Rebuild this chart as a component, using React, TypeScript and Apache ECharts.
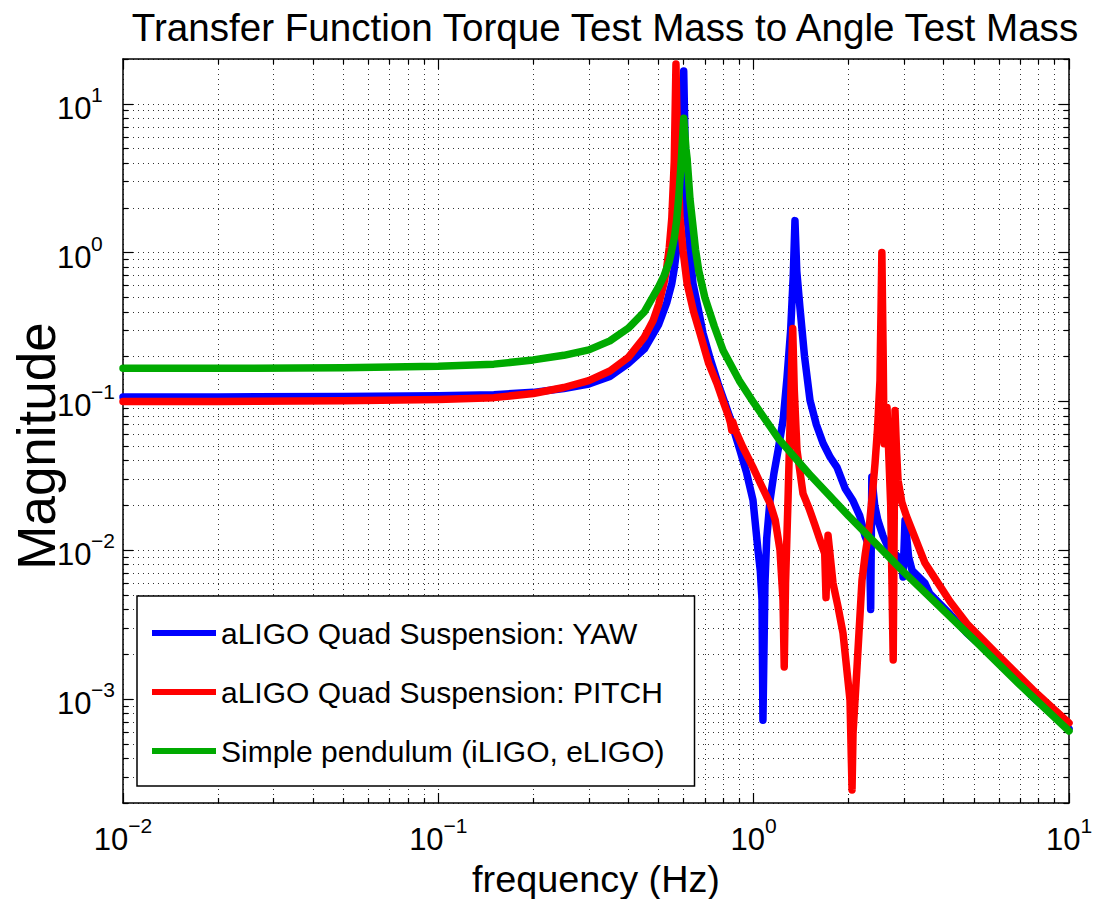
import React, { useEffect, useRef } from 'react';
import * as echarts from 'echarts';

const FONT = "'Liberation Sans', Arial, Helvetica, sans-serif";

const TITLE = 'Transfer Function Torque Test Mass to Angle Test Mass';
const X_NAME = 'frequency (Hz)';
const Y_NAME = 'Magnitude';
const SERIES_NAMES = [
  'aLIGO Quad Suspension: YAW',
  'aLIGO Quad Suspension: PITCH',
  'Simple pendulum (iLIGO, eLIGO)',
];
const SERIES_COLORS = ['#0000ff', '#ff0000', '#00aa00'];

const X_MIN = 0.01;
const X_MAX = 10;
const Y_MIN = 2e-4;
const Y_MAX = 20;

const X_MAJOR = [0.01, 0.1, 1, 10];
const X_MAJOR_EXP = ['\u22122', '\u22121', '0', '1'];
const Y_MAJOR = [0.001, 0.01, 0.1, 1, 10];
const Y_MAJOR_EXP = ['\u22123', '\u22122', '\u22121', '0', '1'];
const MINOR_MULT = [2, 3, 4, 5, 6, 7, 8, 9];
const X_DECADES = [0.01, 0.1, 1];
const Y_DECADES = [1e-4, 1e-3, 1e-2, 0.1, 1, 10];

// aLIGO Quad Suspension: YAW
const YAW_FREQ = [0.01, 0.02, 0.05, 0.1, 0.15, 0.2, 0.25, 0.3, 0.35, 0.4, 0.45, 0.5, 0.53, 0.55, 0.56, 0.57, 0.58, 0.59, 0.596, 0.6, 0.604, 0.61, 0.615, 0.628, 0.642, 0.67, 0.691, 0.73, 0.771, 0.841, 0.905, 0.95, 0.995, 1.032, 1.05, 1.063, 1.07, 1.086, 1.1, 1.127, 1.16, 1.195, 1.24, 1.276, 1.31, 1.335, 1.352, 1.37, 1.403, 1.45, 1.509, 1.58, 1.66, 1.75, 1.838, 1.95, 2.065, 2.17, 2.254, 2.33, 2.35, 2.37, 2.42, 2.477, 2.57, 2.667, 2.87, 2.95, 2.976, 3.02, 3.1, 3.18, 3.494, 3.62, 4.2, 4.75, 6.04, 7.69, 10];
const YAW_MAG = [0.107, 0.107, 0.108, 0.109, 0.111, 0.115, 0.122, 0.131, 0.147, 0.18, 0.225, 0.33, 0.46, 0.62, 0.78, 1.05, 1.5, 3.2, 8, 16.6, 8, 2.8, 1.75, 1.03, 0.62, 0.4, 0.286, 0.19, 0.132, 0.078, 0.0469, 0.033, 0.0217, 0.01, 0.0072, 0.0046, 0.00072, 0.006, 0.012, 0.0217, 0.033, 0.0469, 0.075, 0.145, 0.3, 0.7, 1.64, 0.75, 0.42, 0.2, 0.1016, 0.07, 0.0523, 0.042, 0.036, 0.026, 0.0215, 0.017, 0.0125, 0.0105, 0.004, 0.031, 0.02, 0.0159, 0.0125, 0.0105, 0.009, 0.0085, 0.0066, 0.0159, 0.009, 0.0073, 0.006, 0.0051, 0.0037, 0.00277, 0.00175, 0.00103, 0.00063];

// aLIGO Quad Suspension: PITCH
const PITCH_FREQ = [0.01, 0.02, 0.05, 0.1, 0.15, 0.2, 0.25, 0.3, 0.35, 0.4, 0.45, 0.48, 0.5, 0.52, 0.53, 0.54, 0.55, 0.56, 0.567, 0.575, 0.584, 0.597, 0.615, 0.645, 0.676, 0.72, 0.765, 0.8, 0.835, 0.845, 0.852, 0.858, 0.88, 0.925, 0.995, 1.06, 1.127, 1.17, 1.212, 1.239, 1.25, 1.262, 1.285, 1.31, 1.33, 1.345, 1.372, 1.434, 1.5, 1.56, 1.623, 1.68, 1.696, 1.721, 1.785, 1.85, 1.92, 2.021, 2.051, 2.066, 2.127, 2.206, 2.26, 2.32, 2.38, 2.426, 2.47, 2.515, 2.55, 2.575, 2.591, 2.648, 2.72, 2.77, 2.807, 2.84, 2.87, 2.95, 3.05, 3.18, 3.494, 3.7, 4.2, 4.75, 6.04, 7.69, 10];
const PITCH_MAG = [0.1, 0.1, 0.101, 0.103, 0.106, 0.113, 0.124, 0.138, 0.16, 0.197, 0.27, 0.35, 0.45, 0.63, 0.79, 1.08, 1.7, 4.1, 18.5, 4.0, 1.72, 1.03, 0.62, 0.4, 0.286, 0.18, 0.132, 0.1, 0.078, 0.071, 0.064, 0.073, 0.062, 0.049, 0.036, 0.027, 0.0206, 0.016, 0.01, 0.0046, 0.00164, 0.006, 0.0217, 0.1, 0.309, 0.12, 0.047, 0.024, 0.019, 0.015, 0.0117, 0.0095, 0.0048, 0.0126, 0.006, 0.0042, 0.00277, 0.00098, 0.000245, 0.00059, 0.00164, 0.0063, 0.0095, 0.0136, 0.024, 0.0384, 0.065, 0.138, 1.0, 0.2, 0.052, 0.091, 0.02, 0.00183, 0.087, 0.045, 0.0295, 0.021, 0.017, 0.0136, 0.0082, 0.0068, 0.0045, 0.0032, 0.00191, 0.00115, 0.00069];

// Simple pendulum (iLIGO, eLIGO)
const PEND_FREQ = [0.01, 0.02, 0.05, 0.1, 0.15, 0.2, 0.25, 0.3, 0.35, 0.4, 0.45, 0.5, 0.52, 0.54, 0.56, 0.57, 0.58, 0.59, 0.6, 0.61, 0.615, 0.62, 0.628, 0.64, 0.654, 0.67, 0.7, 0.75, 0.8, 0.9, 1.0, 1.2, 1.5, 2, 3, 5, 7, 10];
const PEND_MAG = [0.167, 0.167, 0.168, 0.172, 0.178, 0.19, 0.204, 0.222, 0.255, 0.31, 0.4, 0.59, 0.7, 0.87, 1.25, 1.65, 2.5, 4.3, 8.0, 5.0, 4.3, 3.4, 2.3, 1.6, 1.05, 0.75, 0.5, 0.32, 0.22, 0.138, 0.098, 0.056, 0.0325, 0.017, 0.0071, 0.0025, 0.00124, 0.00061];

function buildMinor(decades: number[], mults: number[]): number[] {
  const out: number[] = [];
  decades.forEach((d) => mults.forEach((m) => out.push(Number((d * m).toPrecision(6)))));
  return out;
}
const X_MINOR = buildMinor(X_DECADES, MINOR_MULT);
const Y_MINOR = buildMinor(Y_DECADES, MINOR_MULT);

function zip(xs: number[], ys: number[]): number[][] {
  return xs.map((x, i) => [x, ys[i]]);
}

function expLabel(v: number, majors: number[], exps: string[]): string {
  const i = majors.findIndex((t) => Math.abs(Math.log10(t) - Math.log10(v)) < 1e-6);
  return '{b|10}{e|' + (i >= 0 ? exps[i] : '') + '}';
}

const RICH_X = {
  b: { fontSize: 31, fontFamily: FONT, color: '#000', lineHeight: 31, verticalAlign: 'bottom' },
  e: { fontSize: 21, fontFamily: FONT, color: '#000', lineHeight: 40, verticalAlign: 'top' },
};
const RICH_Y = {
  b: { fontSize: 31, fontFamily: FONT, color: '#000', lineHeight: 31, verticalAlign: 'bottom', width: 34, align: 'left' },
  e: { fontSize: 21, fontFamily: FONT, color: '#000', lineHeight: 40, verticalAlign: 'top', width: 30, align: 'left' },
};

const GRID_LINE = { color: '#333', width: 1, type: [1, 4] };
const AXIS_LINE = { show: true, onZero: false, lineStyle: { color: '#000', width: 1.5 } };
const TICK_STYLE = { color: '#000', width: 1.2 };

export default function App() {
  const ref = useRef<HTMLDivElement>(null);

  useEffect(() => {
    if (!ref.current) return;
    const chart = echarts.init(ref.current, null, { renderer: 'svg' });

    const xBase = { type: 'log', logBase: 10, min: X_MIN, max: X_MAX, gridIndex: 0, minorTick: { show: false }, minorSplitLine: { show: false }, splitArea: { show: false } };
    const yBase = { type: 'log', logBase: 10, min: Y_MIN, max: Y_MAX, gridIndex: 0, minorTick: { show: false }, minorSplitLine: { show: false }, splitArea: { show: false } };

    const option: any = {
      animation: false,
      backgroundColor: '#fff',
      title: {
        text: TITLE,
        left: 605,
        textAlign: 'center',
        top: 8,
        padding: 0,
        textStyle: { fontSize: 38.6, fontWeight: 'normal', fontFamily: FONT, color: '#000' },
      },
      grid: { left: 123, top: 59, right: 25, bottom: 96, containLabel: false, outerBoundsMode: 'none', show: false },
      legend: {
        show: true,
        orient: 'vertical',
        left: 137,
        top: 596,
        padding: [22, 30, 20, 15],
        itemGap: 29,
        itemWidth: 64,
        itemHeight: 6,
        icon: 'rect',
        borderColor: '#000',
        borderWidth: 1.5,
        borderRadius: 0,
        backgroundColor: '#fff',
        selectedMode: false,
        data: SERIES_NAMES,
        textStyle: { fontSize: 30, fontFamily: FONT, color: '#000', lineHeight: 30 },
      },
      xAxis: [
        {
          ...xBase,
          position: 'bottom',
          axisLine: AXIS_LINE,
          axisTick: { show: true, inside: true, length: 10, customValues: X_MAJOR, lineStyle: TICK_STYLE },
          axisLabel: {
            show: true,
            customValues: X_MAJOR,
            margin: 12,
            formatter: (v: number) => expLabel(v, X_MAJOR, X_MAJOR_EXP),
            rich: RICH_X,
          },
          splitLine: { show: true, lineStyle: GRID_LINE },
          name: X_NAME,
          nameLocation: 'middle',
          nameGap: 57,
          nameMoveOverlap: false,
          nameTextStyle: { fontSize: 37.8, fontFamily: FONT, color: '#000' },
        },
        {
          ...xBase,
          position: 'bottom',
          axisLine: { show: false },
          axisTick: { show: true, inside: true, length: 5, customValues: X_MINOR, lineStyle: TICK_STYLE },
          axisLabel: { show: false },
          splitLine: { show: true, lineStyle: GRID_LINE },
        },
        {
          ...xBase,
          position: 'top',
          axisLine: AXIS_LINE,
          axisTick: { show: true, inside: true, length: 10, customValues: X_MAJOR, lineStyle: TICK_STYLE },
          axisLabel: { show: false },
          splitLine: { show: false },
        },
        {
          ...xBase,
          position: 'top',
          axisLine: { show: false },
          axisTick: { show: true, inside: true, length: 5, customValues: X_MINOR, lineStyle: TICK_STYLE },
          axisLabel: { show: false },
          splitLine: { show: false },
        },
      ],
      yAxis: [
        {
          ...yBase,
          position: 'left',
          axisLine: AXIS_LINE,
          axisTick: { show: true, inside: true, length: 10, customValues: Y_MAJOR, lineStyle: TICK_STYLE },
          axisLabel: {
            show: true,
            customValues: Y_MAJOR,
            margin: 2,
            formatter: (v: number) => expLabel(v, Y_MAJOR, Y_MAJOR_EXP),
            rich: RICH_Y,
          },
          splitLine: { show: true, lineStyle: GRID_LINE },
          name: Y_NAME,
          nameLocation: 'middle',
          nameRotate: 90,
          nameGap: 60,
          nameMoveOverlap: false,
          nameTextStyle: { fontSize: 53, fontFamily: FONT, color: '#000', padding: [0, 30, 0, 0] },
        },
        {
          ...yBase,
          position: 'left',
          axisLine: { show: false },
          axisTick: { show: true, inside: true, length: 5, customValues: Y_MINOR, lineStyle: TICK_STYLE },
          axisLabel: { show: false },
          splitLine: { show: true, lineStyle: GRID_LINE },
        },
        {
          ...yBase,
          position: 'right',
          axisLine: AXIS_LINE,
          axisTick: { show: true, inside: true, length: 10, customValues: Y_MAJOR, lineStyle: TICK_STYLE },
          axisLabel: { show: false },
          splitLine: { show: false },
        },
        {
          ...yBase,
          position: 'right',
          axisLine: { show: false },
          axisTick: { show: true, inside: true, length: 5, customValues: Y_MINOR, lineStyle: TICK_STYLE },
          axisLabel: { show: false },
          splitLine: { show: false },
        },
      ],
      series: [
        { freq: YAW_FREQ, mag: YAW_MAG },
        { freq: PITCH_FREQ, mag: PITCH_MAG },
        { freq: PEND_FREQ, mag: PEND_MAG },
      ].map((s, i) => ({
        name: SERIES_NAMES[i],
        type: 'line',
        xAxisIndex: 0,
        yAxisIndex: 0,
        data: zip(s.freq, s.mag),
        showSymbol: false,
        symbol: 'none',
        silent: true,
        clip: true,
        z: 3 + i,
        color: SERIES_COLORS[i],
        itemStyle: { color: SERIES_COLORS[i] },
        lineStyle: { color: SERIES_COLORS[i], width: 7.5, cap: 'round', join: 'round' },
      })),
    };

    chart.setOption(option);
    return () => {
      chart.dispose();
    };
  }, []);

  return (
    <div
      ref={ref}
      style={{ position: 'fixed', left: 0, top: 0, width: 1094, height: 899, background: '#fff' }}
    />
  );
}
